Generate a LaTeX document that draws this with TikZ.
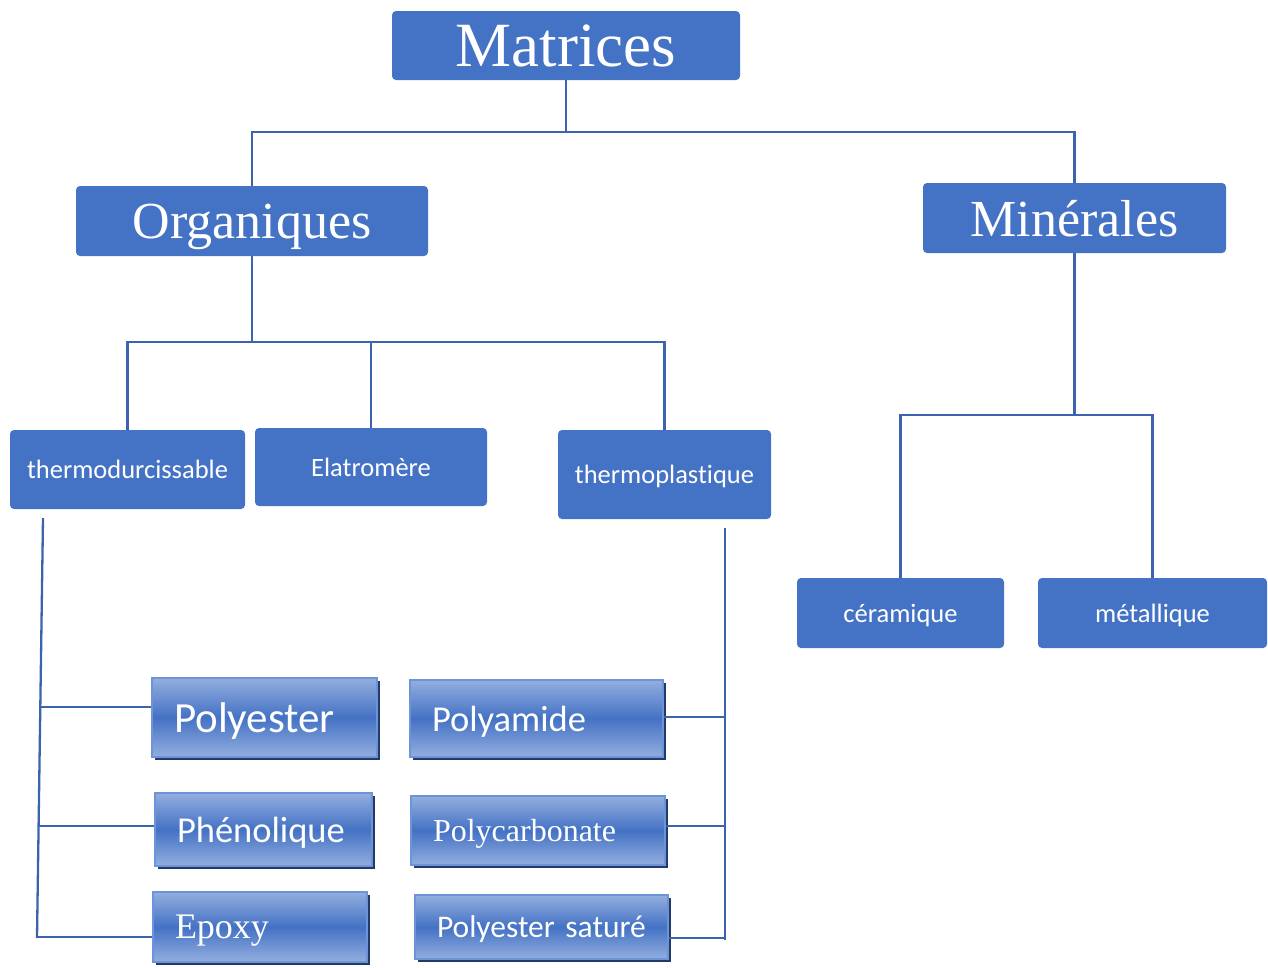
\documentclass[tikz,border=0pt]{standalone}
\usepackage{fontspec}
\setmainfont{Liberation Serif}
\newfontfamily\calibri[Ligatures=NoCommon]{Carlito}
\usetikzlibrary{shadows}

\definecolor{boxblue}{HTML}{4472C4}
\definecolor{boxlight}{HTML}{93AEDF}
\definecolor{boxedge}{HTML}{6D93D8}
\definecolor{boxshadow}{HTML}{22396A}
\definecolor{linkblue}{HTML}{3B63AE}

\begin{document}
\begin{tikzpicture}[
  x=1pt, y=-1pt,
  cat/.style={fill=boxblue, rounded corners=4pt, text=white, align=center, inner sep=0pt, text depth=0pt},
  sub/.style={cat, font=\calibri\fontsize{26.5}{30}\selectfont},
  item/.style={draw=boxedge, line width=1.5pt, top color=boxlight, bottom color=boxlight, middle color=boxblue,
    text=white, align=left, inner xsep=22pt, inner ysep=0pt, text depth=0pt,
    drop shadow={shadow xshift=3pt, shadow yshift=-3pt, fill=boxshadow, opacity=1}},
  link/.style={draw=linkblue, line width=2.3pt},
]
\useasboundingbox (0,0) rectangle (1268,967);

% Root
\node[cat, minimum width=348pt, minimum height=69pt, font=\fontsize{63}{70}\selectfont] (mat) at (566,45.5) {Matrices};

% Level 1
\node[cat, minimum width=352pt, minimum height=70pt, font=\fontsize{52}{58}\selectfont] (org) at (252,221) {Organiques};
\node[cat, minimum width=303pt, minimum height=70pt, font=\fontsize{52}{58}\selectfont] (min) at (1074.5,218) {Minérales};

\coordinate (j0) at (566,132);
\draw[link] (mat.south) -- (j0);
\draw[link] (j0) -| (org.north);
\draw[link] (j0) -| (min.north);

% Level 2
\node[sub, minimum width=235pt, minimum height=79pt] (thd) at (127.5,469.5) {thermodurcissable};
\node[sub, minimum width=232pt, minimum height=78pt] (ela) at (371,467) {Elatromère};
\node[sub, minimum width=213pt, minimum height=89pt] (thp) at (664.5,474.5) {thermoplastique};
\node[sub, minimum width=207pt, minimum height=70pt] (cer) at (900.5,613) {céramique};
\node[sub, minimum width=229pt, minimum height=70pt] (met) at (1152.5,613) {métallique};

\coordinate (j1) at (252,342);
\draw[link] (org.south) -- (j1);
\draw[link] (j1) -| (thd.north);
\draw[link] (j1) -| (ela.north);
\draw[link] (j1) -| (thp.north);

\coordinate (j2) at (1074.5,415);
\draw[link] (min.south) -- (j2);
\draw[link] (j2) -| (cer.north);
\draw[link] (j2) -| (met.north);

% Resins
\node[item, text width=181pt, minimum height=79pt, font=\calibri\fontsize{43}{48}\selectfont] (pol) at (264.5,717.5) {Polyester};
\node[item, text width=173pt, minimum height=73pt, font=\calibri\fontsize{36.5}{42}\selectfont] (phe) at (263.5,829.5) {Phénolique};
\node[item, text width=170pt, minimum height=70pt, font=\fontsize{36}{42}\selectfont] (epo) at (260,927) {Epoxy};
\node[item, text width=209pt, minimum height=77pt, font=\calibri\fontsize{36.5}{42}\selectfont] (pam) at (536.5,718.5) {Polyamide};
\node[item, text width=210pt, minimum height=69pt, font=\fontsize{32}{38}\selectfont] (pca) at (538,830.5) {Polycarbonate};
\node[item, text width=209pt, minimum height=64pt, font=\calibri\fontsize{31.5}{36}\selectfont] (pst) at (541.5,927) {Polyester saturé};

% thermodurcissable bus
\coordinate (tdtop) at (43,518);
\coordinate (tdbot) at (37,938);
\coordinate (td1) at (40.3,707);
\coordinate (td2) at (38.6,826);
\coordinate (td3) at (37,937);
\draw[link] (tdtop) -- (tdbot);
\draw[link] (td1) -- (td1 -| pol.west);
\draw[link] (td2) -- (td2 -| phe.west);
\draw[link] (td3) -- (td3 -| epo.west);

% thermoplastique bus
\coordinate (tptop) at (725,528);
\coordinate (tpbot) at (725,940);
\coordinate (tp1) at (725,717);
\coordinate (tp2) at (725,826);
\coordinate (tp3) at (725,938);
\draw[link] (tptop) -- (tpbot);
\draw[link] (pam.east |- tp1) -- (tp1);
\draw[link] (pca.east |- tp2) -- (tp2);
\draw[link] (pst.east |- tp3) -- (tp3);

\end{tikzpicture}
\end{document}
